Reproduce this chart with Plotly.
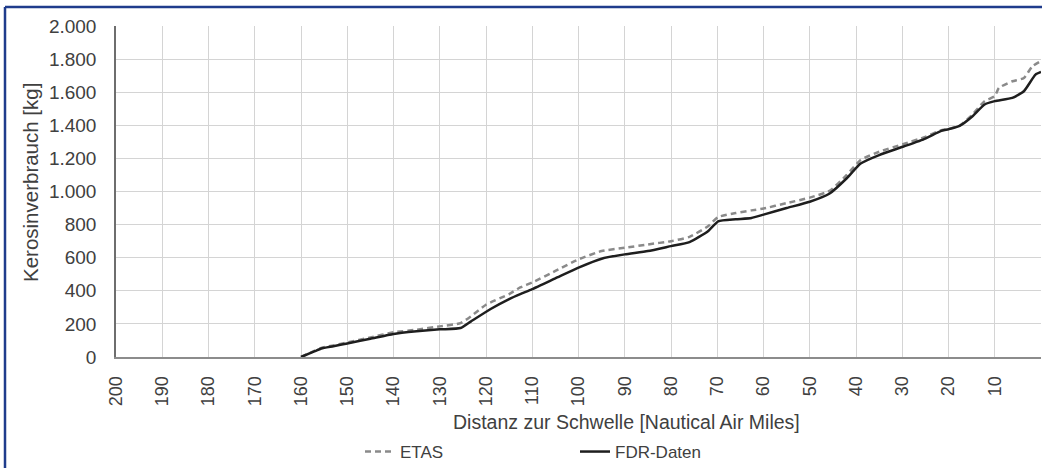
import plotly.graph_objects as go

# Distance to threshold [NM] and cumulative fuel burn [kg]
fdr_dist = [160, 157, 155.6, 153, 150, 145, 140, 135, 130, 125.5, 123.3, 119, 115, 112.6, 110, 105, 100, 95, 90, 85, 80, 76, 72, 69.8, 66, 62.6, 60, 55, 50, 45.7, 42, 39, 35, 29.7, 25, 21.7, 20, 17.6, 15, 12.2, 10, 6.2, 3.7, 1.2, 0]
fdr_fuel = [0, 35, 51, 65, 82, 110, 139, 155, 167, 175, 214, 290, 350, 380, 410, 475, 540, 594, 620, 640, 670, 694, 760, 820, 832, 840, 860, 900, 938, 988, 1080, 1169, 1220, 1272, 1320, 1365, 1376, 1396, 1450, 1526, 1546, 1566, 1606, 1706, 1722]

etas_dist = [160, 157, 155.6, 153, 150, 145, 140, 135, 130, 125.5, 123.3, 120, 115, 112.6, 110, 105, 100, 95, 90, 85, 80, 76, 72, 69.8, 66, 62.6, 60, 55, 50, 45.7, 42, 39, 35, 29.7, 25, 21.7, 20, 17.6, 15, 12.2, 10, 9.1, 6.2, 3.7, 1.9, 0]
etas_fuel = [0, 38, 55, 70, 88, 118, 149, 165, 185, 205, 245, 316, 380, 420, 450, 520, 590, 640, 660, 680, 700, 726, 790, 846, 870, 886, 897, 930, 963, 1004, 1100, 1190, 1240, 1287, 1330, 1369, 1378, 1398, 1460, 1546, 1576, 1626, 1666, 1686, 1756, 1788]

x_ticks = list(range(0, 201, 10))
y_ticks = list(range(0, 2001, 200))

FONT = "Liberation Sans, Arial, sans-serif"
TXT = "#404040"

L, R, T, B = 116, 1041, 26, 357
W, H = R - L, B - T

def px(x):
    return (x - L) / W

def py(y):
    return (B - y) / H

fig = go.Figure()
fig.add_trace(go.Scatter(x=etas_dist, y=etas_fuel, mode="lines", name="ETAS",
                         line=dict(color="#8a8a8a", width=2.5, dash="6px,4px",
                                   shape="spline", smoothing=0.5)))
fig.add_trace(go.Scatter(x=fdr_dist, y=fdr_fuel, mode="lines", name="FDR-Daten",
                         line=dict(color="#1e1e1e", width=2.5,
                                   shape="spline", smoothing=0.5)))

fig.update_layout(
    width=1042, height=468,
    margin=dict(l=L, r=1042 - R, t=T, b=468 - B, autoexpand=False),
    paper_bgcolor="white", plot_bgcolor="white",
    separators=",.",
    font=dict(family=FONT, size=18, color=TXT),
    showlegend=True,
    legend=dict(orientation="h", x=px(360), xanchor="left",
                y=py(452), yanchor="middle",
                font=dict(size=17, color=TXT), entrywidth=170, entrywidthmode="pixels",
                bgcolor="rgba(0,0,0,0)"),
    xaxis=dict(range=[200, 0], tickvals=x_ticks, ticktext=[str(v) for v in x_ticks],
               tickangle=-90, showgrid=True, gridcolor="#d4d4d4", gridwidth=1,
               showline=True, linecolor="#8c8c8c", linewidth=2, zeroline=False,
               ticks="", ticklabelstandoff=10, tickfont=dict(size=18, color=TXT)),
    yaxis=dict(range=[0, 2000], tickvals=y_ticks, tickformat=",d",
               showgrid=True, gridcolor="#d4d4d4", gridwidth=1,
               showline=True, linecolor="#6e6e6e", linewidth=1.5, zeroline=False,
               ticks="", ticklabelstandoff=14, tickfont=dict(size=19, color=TXT)),
    annotations=[
        dict(text="Distanz zur Schwelle [Nautical Air Miles]", xref="paper", yref="paper",
             x=px(626), y=py(422), xanchor="center", yanchor="middle",
             showarrow=False, font=dict(size=19.5, color=TXT)),
        dict(text="Kerosinverbrauch [kg]", xref="paper", yref="paper",
             x=px(30), y=py(183), xanchor="center", yanchor="middle",
             textangle=-90, showarrow=False, font=dict(size=20.5, color=TXT)),
    ],
    shapes=[
        dict(type="line", xref="paper", yref="paper",
             x0=px(5), x1=px(1046), y0=py(7), y1=py(7),
             line=dict(color="#1f3c8c", width=2.5)),
        dict(type="line", xref="paper", yref="paper",
             x0=px(5), x1=px(5), y0=py(7), y1=py(470),
             line=dict(color="#1f3c8c", width=2.5)),
    ],
)

fig.write_html("out.html", config={"displayModeBar": False},
               post_script="document.body.style.margin='0';document.body.style.overflow='hidden';")
